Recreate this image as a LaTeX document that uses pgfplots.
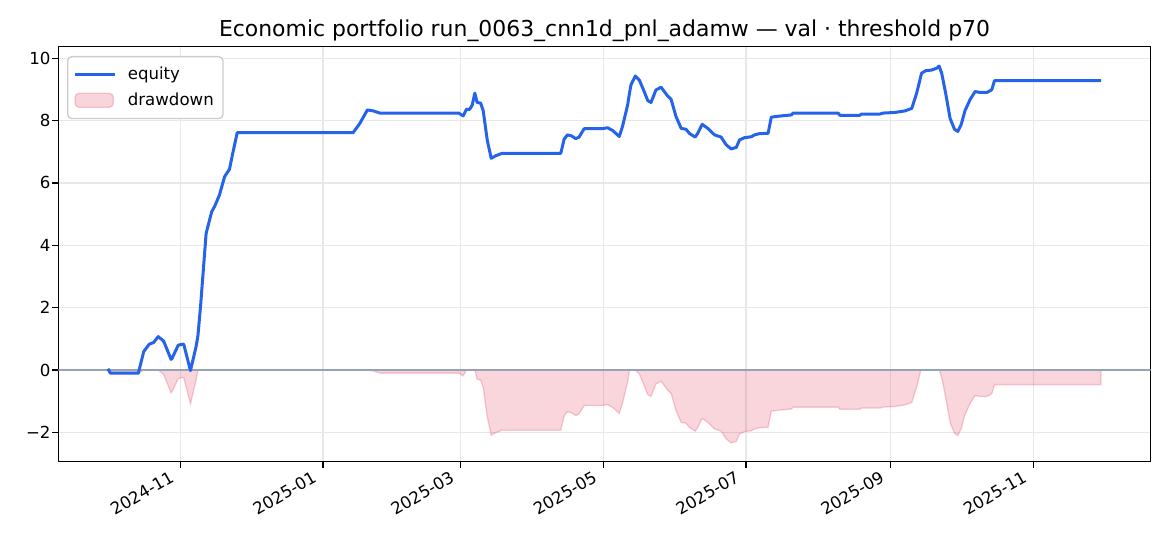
\documentclass[border=0pt]{standalone}
\usepackage{fontspec}
\setmainfont{DejaVu Sans}
\usepackage{pgfplots}
\usepackage{pgfplotstable}
\pgfplotsset{compat=1.18}
\definecolor{eqblue}{RGB}{37,99,235}
\definecolor{ddred}{RGB}{220,20,60}
\definecolor{zeroline}{RGB}{148,163,184}
\definecolor{gridc}{RGB}{232,232,232}
\definecolor{legedge}{RGB}{204,204,204}
\pgfplotsset{
  lineleg/.style={legend image code/.code={\draw[##1] (0bp,0bp) -- (24bp,0bp); \path (28.8bp,0bp);}},
  ddleg/.style={legend image code/.code={\draw[##1] (0bp,-4.2bp) rectangle (23bp,4.2bp); \path (28.8bp,0bp);}},
}
\pgfplotstableread{
d eq dd
-31 0.04 0
-30 -0.10 -0.12
-18 -0.10 -0.12
-15.7 0.59 0
-13.3 0.83 0
-11.5 0.88 0
-9.5 1.07 0
-7.2 0.93 -0.14
-4.0 0.34 -0.73
-3.6 0.37 -0.70
-0.9 0.80 -0.27
1.4 0.83 -0.24
4.3 -0.02 -1.09
6.7 0.75 -0.32
7.5 1.10 0
8.6 2.03 0
11 4.38 0
13.4 5.08 0
14.6 5.24 0
16.7 5.61 0
18.9 6.20 0
21 6.44 0
22.4 6.95 0
24.3 7.61 0
73.9 7.61 0
76.8 7.91 0
80 8.34 0
82.5 8.31 -0.03
85.4 8.24 -0.10
119.1 8.24 -0.10
121 8.15 -0.19
122.4 8.36 0
123.8 8.36 0
124.9 8.50 0
126 8.88 0
127 8.58 -0.30
128.5 8.56 -0.32
129.6 8.31 -0.57
131.3 7.38 -1.50
133 6.79 -2.09
134.9 6.87 -2.01
137.7 6.95 -1.93
162.8 6.95 -1.93
164.2 7.40 -1.48
165.6 7.54 -1.34
167.3 7.51 -1.37
169.2 7.42 -1.46
170.6 7.47 -1.41
172.8 7.74 -1.14
180.6 7.74 -1.14
182.8 7.77 -1.11
185 7.68 -1.20
187.8 7.49 -1.39
189.2 7.81 -1.07
191.4 8.50 -0.38
192.2 8.88 0
192.8 9.14 0
194.7 9.43 0
196.4 9.30 -0.13
198.5 8.93 -0.50
200 8.64 -0.79
201.4 8.58 -0.85
203.5 8.98 -0.45
205.7 9.07 -0.36
207.1 8.93 -0.50
208.5 8.79 -0.64
210 8.68 -0.75
212.1 8.13 -1.30
214.3 7.75 -1.68
216.4 7.72 -1.71
217.8 7.59 -1.84
220.3 7.47 -1.96
221.4 7.59 -1.84
223.3 7.88 -1.55
225.7 7.75 -1.68
228.6 7.54 -1.89
231.4 7.47 -1.96
233.6 7.22 -2.21
235.7 7.09 -2.34
237.9 7.14 -2.29
239.3 7.38 -2.05
241.4 7.45 -1.98
244.3 7.48 -1.95
245.7 7.54 -1.89
247.8 7.58 -1.85
251.5 7.59 -1.84
252.9 8.11 -1.32
255 8.13 -1.30
257.2 8.15 -1.28
261.5 8.18 -1.25
262.2 8.24 -1.19
281.5 8.24 -1.19
282.2 8.17 -1.26
290.8 8.17 -1.26
291.5 8.21 -1.22
299.4 8.21 -1.22
300.7 8.24 -1.19
305.8 8.26 -1.17
310.1 8.31 -1.12
313 8.39 -1.04
315.1 8.88 -0.55
316.9 9.43 0
317.2 9.52 0
319 9.60 0
321.5 9.62 0
323.7 9.68 0
324.7 9.75 0
325.8 9.52 -0.23
327.5 8.88 -0.87
329.4 8.07 -1.68
331.3 7.72 -2.03
332.7 7.65 -2.10
334.1 7.86 -1.89
335.8 8.32 -1.43
338 8.68 -1.07
340.1 8.93 -0.82
342.3 8.90 -0.85
345.1 8.90 -0.85
346.6 8.96 -0.79
347.3 9.00 -0.75
348.4 9.28 -0.47
394 9.28 -0.47
}\datatab
\begin{document}
\begin{tikzpicture}
\begin{axis}[
  at={(0,0)}, anchor=south west,
  scale only axis, width=655.4bp, height=249bp,
  xmin=-52.25, xmax=415.25, ymin=-2.94, ymax=10.37,
  xtick={0,61,120,181,242,304,365},
  xticklabels={2024-11,2025-01,2025-03,2025-05,2025-07,2025-09,2025-11},
  ytick={-2,0,2,4,6,8,10},
  yticklabels={−2,0,2,4,6,8,10},
  xtick pos=bottom, ytick pos=left,
  tick align=outside, major tick length=3.5bp,
  tick style={black, line width=0.8bp},
  axis line style={line width=0.8bp, black},
  grid=major, major grid style={gridc, line width=0.8bp},
  tick label style={font=\fontsize{10}{12}\selectfont},
  xticklabel style={xshift=-6.5bp, rotate=30, anchor=north east, inner sep=1bp},
  yticklabel style={inner sep=1bp},
  title={Economic portfolio run\_0063\_cnn1d\_pnl\_adamw — val · threshold p70},
  title style={font=\fontsize{13.2}{15}\selectfont, anchor=base, at={(0.5,1)}, yshift=0bp},
  legend cell align=left,
  legend style={at={(0,1)}, anchor=north west, xshift=5.2bp, yshift=-5.6bp,
    draw=legedge, line width=0.8bp, rounded corners=2.5bp, fill=white,
    font=\fontsize{10}{12}\selectfont, inner xsep=3.5bp, inner ysep=4.4bp,
    row sep=2.2bp, nodes={inner sep=2bp}},
]
\addlegendimage{eqblue, line width=1.8bp, lineleg}
\addlegendentry{equity}
\addplot[draw=ddred, draw opacity=0.2, fill=ddred, fill opacity=0.18, line width=0.8bp, ddleg]
  table[x=d, y=dd] {\datatab} \closedcycle;
\addlegendentry{drawdown}
\addplot[zeroline, line width=0.8bp, forget plot] coordinates {(-52.25,0) (415.25,0)};
\addplot[eqblue, line width=1.8bp, line join=round, forget plot] table[x=d, y=eq] {\datatab};
\end{axis}
\pgfresetboundingbox
\path[use as bounding box] (-35bp,-50.6bp) rectangle (667bp,277bp);
\end{tikzpicture}
\end{document}
